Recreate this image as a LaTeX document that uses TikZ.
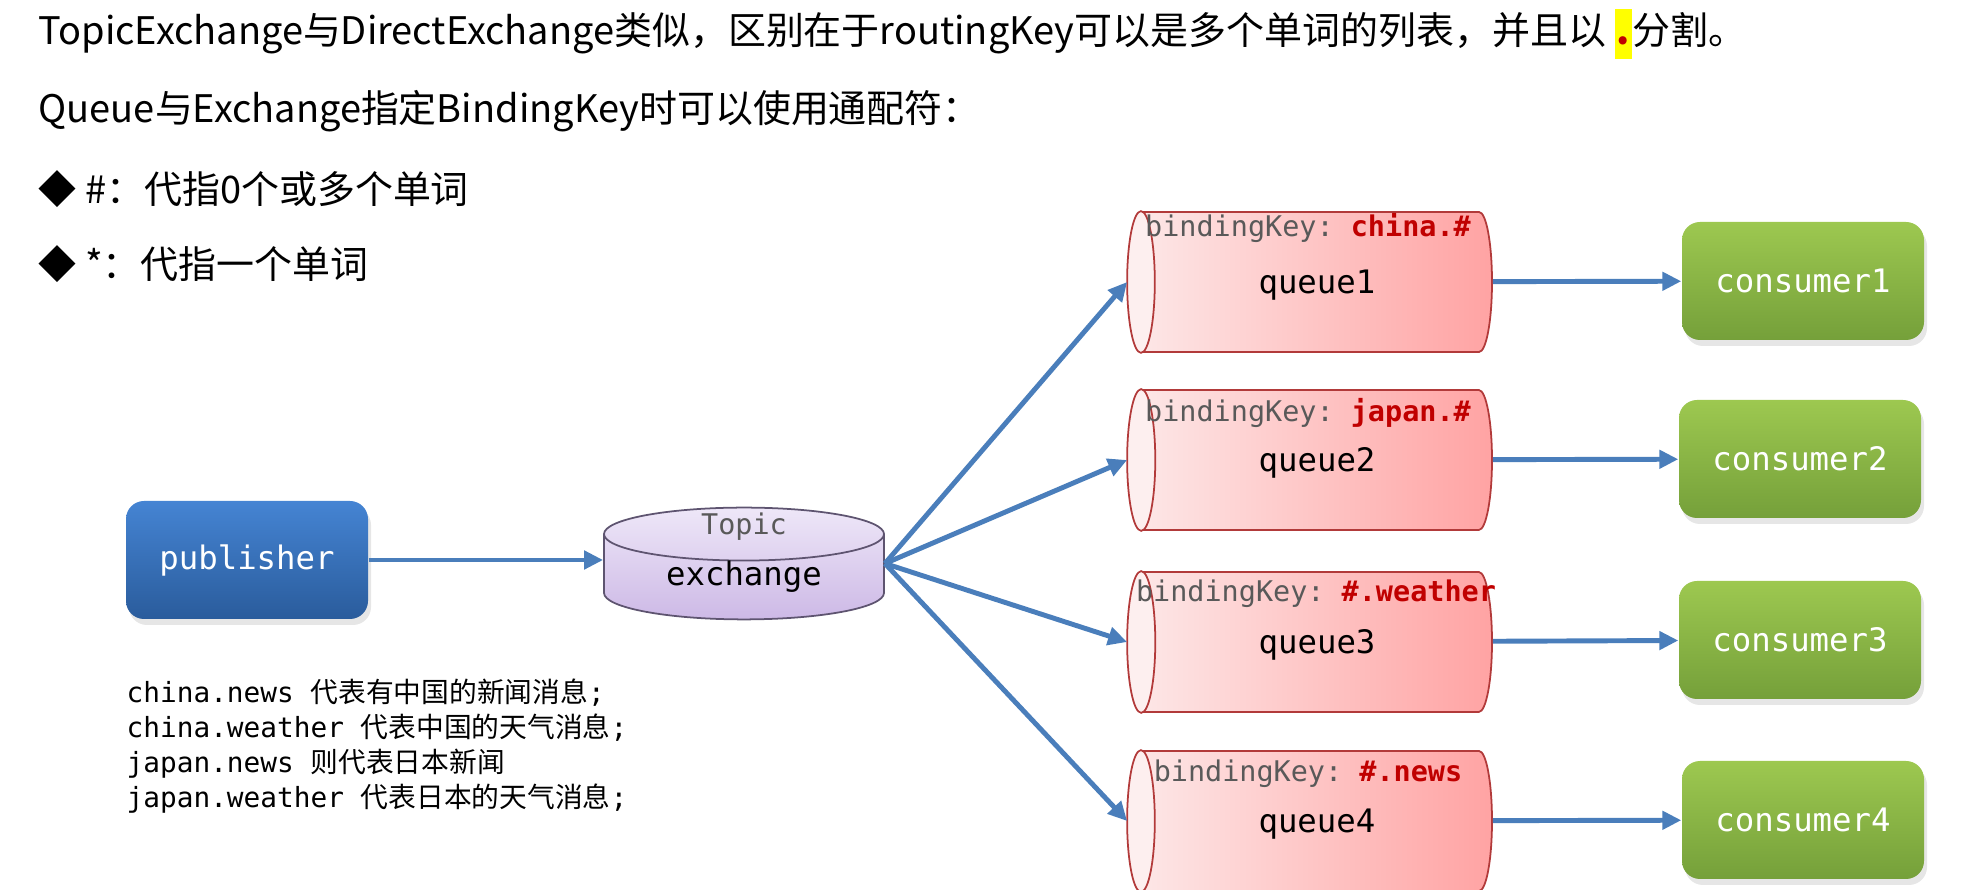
\documentclass[tikz,border=0pt]{standalone}
\usepackage{fontspec}
\setmainfont{Noto Sans CJK SC}
\setmonofont{DejaVu Sans Mono}
\newfontfamily\cjk{Noto Sans CJK SC}
\usetikzlibrary{arrows.meta,positioning,shapes.geometric,calc,shadows}

\definecolor{flowblue}{HTML}{4A7EBB}
\definecolor{pubtop}{HTML}{4584D3}
\definecolor{pubbot}{HTML}{2A5C9C}
\definecolor{contop}{HTML}{9DC850}
\definecolor{conbot}{HTML}{75A03A}
\definecolor{extop}{HTML}{EEE7F8}
\definecolor{exbot}{HTML}{CDB9E6}
\definecolor{exline}{HTML}{5E5470}
\definecolor{qleft}{HTML}{FDE9E9}
\definecolor{qright}{HTML}{FFA3A3}
\definecolor{qline}{HTML}{B23A3A}
\definecolor{qend}{HTML}{FDEFEF}
\definecolor{keygray}{HTML}{595959}
\definecolor{keyred}{HTML}{C00000}
\definecolor{hlyellow}{HTML}{FFFF00}

\newcommand{\hldot}{{\setlength{\fboxsep}{0.6pt}\colorbox{hlyellow}{\rule[-3.4pt]{0pt}{13pt}\textcolor{keyred}{\textbf{.}}}}}
\newcommand{\bkey}[1]{\textcolor{keygray}{bindingKey:} \textcolor{keyred}{\bfseries #1}}

\begin{document}
\begin{tikzpicture}[
  headline/.style={anchor=west, inner sep=0pt, font=\fontsize{10.8}{13}\selectfont},
  tagbox/.style={rounded corners=1.8mm, minimum width=2.42cm, minimum height=1.18cm, text=white,
    font=\ttfamily\fontsize{9.2}{11}\selectfont, drop shadow={opacity=.2, shadow xshift=.3mm, shadow yshift=-.6mm}},
  pubbox/.style={tagbox, top color=pubtop, bottom color=pubbot},
  conbox/.style={tagbox, top color=contop, bottom color=conbot},
  queue/.style={cylinder, shape border rotate=180, shape aspect=1.1, draw=qline, line width=.5pt,
    left color=qleft, right color=qright, minimum height=3.64cm, minimum width=1.40cm, inner sep=0pt,
    text depth=0pt, font=\ttfamily\fontsize{9.2}{11}\selectfont},
  exbox/.style={cylinder, shape border rotate=90, shape aspect=.34, draw=exline, line width=.5pt,
    top color=extop, bottom color=exbot, minimum width=2.80cm, minimum height=0.95cm, inner sep=0pt,
    font=\ttfamily\fontsize{9.2}{11}\selectfont},
  keytag/.style={inner sep=0pt, font=\ttfamily\fontsize{8.1}{10}\selectfont},
  note/.style={anchor=west, inner sep=0pt, align=left, font=\ttfamily\fontsize{7.9}{9.9}\selectfont},
  flow/.style={-{Triangle[length=1.9mm, width=1.8mm]}, line width=1.4pt, draw=flowblue}
]
\useasboundingbox (0,0) rectangle (19.74,-8.90);

% text at the top
\node[headline] (l1) at (0.38,-0.34) {TopicExchange与DirectExchange类似，区别在于routingKey可以是多个单词的列表，并且以 \hldot 分割。};
\node[headline] (l2) at (0.38,-1.11) {Queue与Exchange指定BindingKey时可以使用通配符：};
\node[headline] (l3) at (0.38,-1.89) {◆ \#：代指0个或多个单词};
\node[headline] (l4) at (0.38,-2.64) {◆ *：代指一个单词};

% publisher and exchange
\node[pubbox] (pub) at (2.47,-5.60) {publisher};
\node[exbox, anchor=shape center] (ex) at (7.44,-5.635) {exchange};
\node[keytag, text=keygray] (topic) at (7.44,-5.27) {Topic};

% queues
\node[queue, anchor=shape center] (q1) at (13.10,-2.82) {queue1};
\node[queue, anchor=shape center] (q2) at (13.10,-4.60) {queue2};
\node[queue, anchor=shape center] (q3) at (13.10,-6.42) {queue3};
\node[queue, anchor=shape center] (q4) at (13.10,-8.21) {queue4};
\foreach \q in {q1,q2,q3,q4}
  \draw[draw=qline, fill=qend, line width=.5pt]
    let \p1=($(\q.before top)!.5!(\q.after top)$), \p2=(\q.top), \p3=(\q.before top) in
    (\p1) ellipse [x radius={abs(\x1-\x2)}, y radius={abs(\y3-\y1)}];
\node[keytag] (k1) at (13.08,-2.28) {\bkey{china.\#}};
\node[keytag] (k2) at (13.08,-4.13) {\bkey{japan.\#}};
\node[keytag] (k3) at (13.16,-5.94) {\bkey{\#.weather}};
\node[keytag] (k4) at (13.08,-7.74) {\bkey{\#.news}};

% consumers
\node[conbox] (c1) at (18.03,-2.81) {consumer1};
\node[conbox] (c2) at (18.00,-4.59) {consumer2};
\node[conbox] (c3) at (18.00,-6.40) {consumer3};
\node[conbox] (c4) at (18.03,-8.20) {consumer4};

% routing keys
\node[note] (keys) at (1.26,-7.46) {china.news {\cjk 代表有中国的新闻消息};\\
china.weather {\cjk 代表中国的天气消息};\\
japan.news {\cjk 则代表日本新闻}\\
japan.weather {\cjk 代表日本的天气消息};};

\draw[flow] (pub.east) -- (pub.east -| ex.west);
\foreach \q in {q1,q2,q3,q4}
  \draw[flow] (ex.shape center -| ex.east) -- (\q.west);
\draw[flow] (q1) -- (c1);
\draw[flow] (q2) -- (c2);
\draw[flow] (q3) -- (c3);
\draw[flow] (q4) -- (c4);
\end{tikzpicture}
\end{document}
